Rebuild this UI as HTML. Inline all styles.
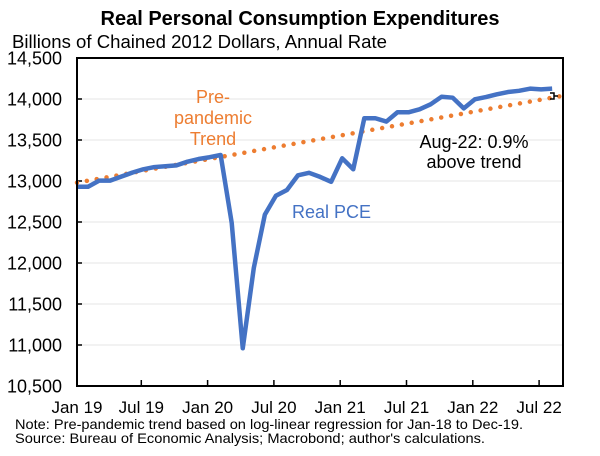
<!DOCTYPE html>
<html><head><meta charset="utf-8"><style>
body{margin:0;background:#fff;font-family:"Liberation Sans",Arial,sans-serif}
svg text{font-family:"Liberation Sans",Arial,sans-serif}
</style></head><body>
<svg id="chart" width="600" height="451" viewBox="0 0 600 451" xmlns="http://www.w3.org/2000/svg">
<text x="300" y="25" text-anchor="middle" font-size="20" font-weight="bold">Real Personal Consumption Expenditures</text>
<text x="12" y="48" font-size="18" textLength="375" lengthAdjust="spacingAndGlyphs">Billions of Chained 2012 Dollars, Annual Rate</text>
<g id="grid"></g>
<g id="yticks"></g>
<g id="xticks"></g>
<polyline id="trend" fill="none" stroke="#ED7D31" stroke-width="4.5" stroke-linecap="round" stroke-dasharray="0 10"/>
<polyline id="pce" fill="none" stroke="#4472C4" stroke-width="4.5" stroke-linejoin="round"/>
<rect x="77" y="58" width="486" height="328" fill="none" stroke="#000" stroke-width="2"/>
<path d="M550 93 h4 v6 h-4 M554 96 h4" fill="none" stroke="#000" stroke-width="1.5"/>
<text fill="#ED7D31" font-size="18" text-anchor="middle"><tspan x="213" y="103">Pre-</tspan><tspan x="213" y="124">pandemic</tspan><tspan x="213" y="145">Trend</tspan></text>
<text x="292" y="218" fill="#4472C4" font-size="18">Real PCE</text>
<text font-size="18" text-anchor="middle"><tspan x="474" y="148">Aug-22: 0.9%</tspan><tspan x="474" y="168">above trend</tspan></text>
<text x="15" y="429" font-size="14" textLength="508" lengthAdjust="spacingAndGlyphs">Note: Pre-pandemic trend based on log-linear regression for Jan-18 to Dec-19.</text>
<text x="15" y="443" font-size="14" textLength="470" lengthAdjust="spacingAndGlyphs">Source: Bureau of Economic Analysis; Macrobond; author's calculations.</text>
</svg>
<script>
const months = ["Jan 19","Feb 19","Mar 19","Apr 19","May 19","Jun 19","Jul 19","Aug 19","Sep 19","Oct 19","Nov 19","Dec 19","Jan 20","Feb 20","Mar 20","Apr 20","May 20","Jun 20","Jul 20","Aug 20","Sep 20","Oct 20","Nov 20","Dec 20","Jan 21","Feb 21","Mar 21","Apr 21","May 21","Jun 21","Jul 21","Aug 21","Sep 21","Oct 21","Nov 21","Dec 21","Jan 22","Feb 22","Mar 22","Apr 22","May 22","Jun 22","Jul 22","Aug 22"];
const pceValues = [12930,12930,13004,13004,13053,13102,13143,13170,13180,13190,13236,13268,13290,13317,12490,10960,11940,12590,12820,12890,13070,13100,13050,12990,13277,13143,13765,13765,13725,13838,13838,13874,13935,14028,14016,13886,13996,14024,14057,14085,14100,14126,14118,14126];
const trendValues = [12980,13004,13028,13052,13076,13100,13125,13149,13173,13197,13221,13245,13269,13293,13317,13341,13366,13390,13414,13438,13462,13486,13510,13534,13558,13582,13607,13631,13655,13679,13703,13727,13751,13775,13799,13823,13848,13872,13896,13920,13944,13968,13992,14016];
const yTicks = [10500,11000,11500,12000,12500,13000,13500,14000,14500];
const xTickLabels = ["Jan 19","Jul 19","Jan 20","Jul 20","Jan 21","Jul 21","Jan 22","Jul 22"];

const NS="http://www.w3.org/2000/svg";
const X0=77, DX=11.05, Y0=386, YTOP=58, VMIN=10500, VMAX=14500;
const xs=i=>X0+i*DX;
const ys=v=>Y0-(v-VMIN)/(VMAX-VMIN)*(Y0-YTOP);
function mk(tag,attrs,parent){const e=document.createElementNS(NS,tag);for(const k in attrs)e.setAttribute(k,attrs[k]);parent.appendChild(e);return e;}
const grid=document.getElementById('grid'), yt=document.getElementById('yticks'), xt=document.getElementById('xticks');
yTicks.forEach(v=>{
  const y=ys(v);
  if(v>VMIN&&v<VMAX){const g=mk('line',{x1:X0,x2:563,y1:y,y2:y,stroke:'#e6e6e6','stroke-width':1},grid);
  
  
  const t=mk('line',{x1:X0,x2:X0+5,y1:y,y2:y,stroke:'#000','stroke-width':1.5},yt);
  
  }
  const l=mk('text',{x:62,y:y+6.5,'text-anchor':'end','font-size':18},yt);
  l.textContent=v.toLocaleString('en-US');
  
  
});
xTickLabels.forEach(lab=>{
  const i=months.indexOf(lab);
  const x=i===0?X0:xs(i)-2;
  if(i>0){const t=mk('line',{x1:x,x2:x,y1:Y0,y2:Y0-6,stroke:'#000','stroke-width':1.5},xt);
  
  }
  const l=mk('text',{x:x,y:413,'text-anchor':'middle','font-size':17},xt);
  l.textContent=lab;
  
  
});
document.getElementById('pce').setAttribute('points',pceValues.map((v,i)=>xs(i)+','+ys(v)).join(' '));
const tp=trendValues.map((v,i)=>[xs(i),ys(v)]);
const n=trendValues.length;
tp.push([xs(n-1)+DX,ys(trendValues[n-1]+(trendValues[n-1]-trendValues[n-2]))]);
document.getElementById('trend').setAttribute('points',tp.map(p=>p.join(',')).join(' '));
</script>
</body></html>
